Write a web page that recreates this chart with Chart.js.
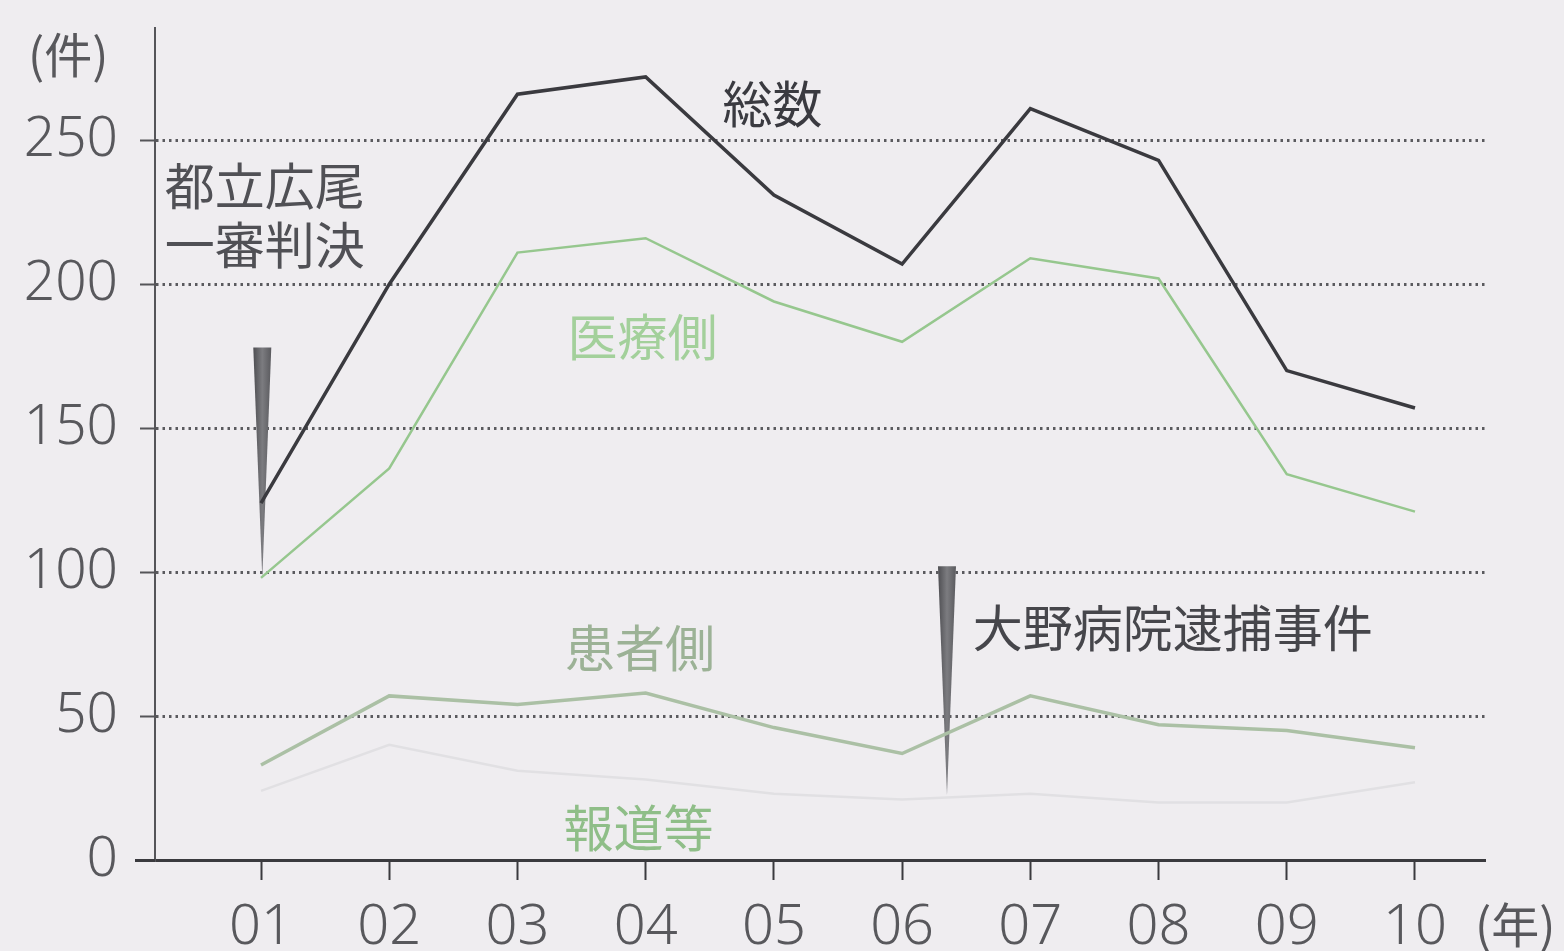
<!DOCTYPE html>
<html><head><meta charset="utf-8">
<script src="https://cdn.jsdelivr.net/npm/chart.js@4.4.1/dist/chart.umd.min.js"></script>
<style>html,body{margin:0;padding:0;background:#efedf0;}#wrap{width:1564px;height:951px;position:relative;}</style>
</head><body><div id="wrap"><canvas id="c" width="1564" height="951"></canvas></div>
<script>
// ---- data ----
const years = ['01','02','03','04','05','06','07','08','09','10'];
const total   = [124, 200, 266, 272, 231, 207, 261, 243, 170, 157];
const medical = [ 98, 136, 211, 216, 194, 180, 209, 202, 134, 121];
const patient = [ 33,  57,  54,  58,  46,  37,  57,  47,  45,  39];
const media   = [ 24,  40,  31,  28,  23,  21,  23,  20,  20,  27];
const yTicks  = [0, 50, 100, 150, 200, 250];
const yUnit = '(件)';
const xUnit = '(年)';
// annotations (data coordinates)
const events = [
  {x: 1.01, top: 178, tip: 98},
  {x: 6.35, top: 102, tip: 22.6}
];
const labels = [
  {text: '総数', x: 4.60, y: 262.5, color: '#3a3a40'},
  {text: '都立広尾', x: 0.25, y: 234, color: '#505055'},
  {text: '一審判決', x: 0.25, y: 213.5, color: '#505055'},
  {text: '医療側', x: 3.39, y: 181.5, color: '#a3d09b'},
  {text: '患者側', x: 3.37, y: 73.7, color: '#9cb296'},
  {text: '報道等', x: 3.36, y: 11.1, color: '#8fbe88'},
  {text: '大野病院逮捕事件', x: 6.55, y: 80.7, color: '#46464b'}
];

const pts = arr => arr.map((v, i) => ({x: i + 1, y: v}));

const annot = {
  id: 'annot',
  beforeDatasetsDraw(chart) {
    const {ctx, scales: {x, y}} = chart;
    ctx.save();
    events.forEach(e => {
      const px = x.getPixelForValue(e.x);
      const yt = y.getPixelForValue(e.top), yb = y.getPixelForValue(e.tip);
      const g = ctx.createLinearGradient(px - 9, 0, px + 9, 0);
      g.addColorStop(0, '#4e4e52'); g.addColorStop(0.5, '#7c7c80'); g.addColorStop(1, '#5a5a5e');
      ctx.fillStyle = g;
      ctx.beginPath();
      ctx.moveTo(px - 9, yt); ctx.lineTo(px + 9, yt); ctx.lineTo(px, yb); ctx.closePath();
      ctx.fill();
    });
    ctx.restore();
  },
  afterDraw(chart) {
    const {ctx, chartArea, scales: {x, y}} = chart;
    ctx.save();
    ctx.strokeStyle = '#3a3a3e'; ctx.lineWidth = 3;
    ctx.beginPath(); ctx.moveTo(chartArea.left - 20, chartArea.bottom + 0.5); ctx.lineTo(chartArea.left, chartArea.bottom + 0.5); ctx.stroke();
    ctx.font = '50px "Noto Sans CJK JP"';
    ctx.textBaseline = 'middle'; ctx.textAlign = 'left';
    labels.forEach(l => {
      ctx.fillStyle = l.color;
      ctx.fillText(l.text, x.getPixelForValue(l.x), y.getPixelForValue(l.y));
    });
    ctx.fillStyle = '#58585c';
    ctx.font = '48px "Noto Sans CJK JP"';
    ctx.fillText(yUnit, 28, 55);
    ctx.fillText(xUnit, chartArea.right - 10, 925);
    ctx.restore();
  }
};

new Chart(document.getElementById('c'), {
  type: 'line',
  data: {
    datasets: [
      {label: '報道等', data: pts(media), borderColor: '#e1e0e3', borderWidth: 2.5},
      {label: '患者側', data: pts(patient), borderColor: '#abc0a5', borderWidth: 3.5},
      {label: '医療側', data: pts(medical), borderColor: '#96c78e', borderWidth: 2.5},
      {label: '総数', data: pts(total), borderColor: '#3a3a3f', borderWidth: 3.5}
    ]
  },
  plugins: [annot],
  options: {
    responsive: false, animation: false, devicePixelRatio: 1,
    layout: {padding: {top: 0, right: 79, left: 0, bottom: 0}},
    elements: {point: {radius: 0}, line: {tension: 0, borderJoinStyle: 'miter'}},
    plugins: {legend: {display: false}, tooltip: {enabled: false}},
    scales: {
      x: {
        type: 'linear', min: 0.1733, max: 10.546,
        afterBuildTicks: s => { s.ticks = years.map((_, i) => ({value: i + 1})); },
        afterFit: s => { s.height = 91; },
        grid: {drawOnChartArea: false, drawTicks: true, tickLength: 20, tickColor: '#3a3a3e', tickWidth: 2},
        border: {display: true, color: '#3a3a3e', width: 3},
        ticks: {callback: v => years[v - 1], color: '#58585c', font: {family: 'Noto Sans', size: 56, weight: 300}, padding: 14, maxRotation: 0, autoSkip: false}
      },
      y: {
        type: 'linear', min: 0, max: 289,
        afterBuildTicks: s => { s.ticks = yTicks.map(v => ({value: v})); },
        afterFit: s => { s.width = 155; s.paddingTop = 28; },
        grid: {
          color: c => (c.tick && c.tick.value === 0) ? 'rgba(0,0,0,0)' : '#5a5a5e',
          lineWidth: 3, tickLength: 15, tickColor: '#555559', tickWidth: 2, tickBorderDash: []
        },
        border: {display: true, color: '#555559', width: 2, dash: [2.5, 4]},
        ticks: {color: '#58585c', font: {family: 'Noto Sans', size: 55, weight: 300}, padding: 22, callback: v => String(v)}
      }
    }
  }
});
</script></body></html>
